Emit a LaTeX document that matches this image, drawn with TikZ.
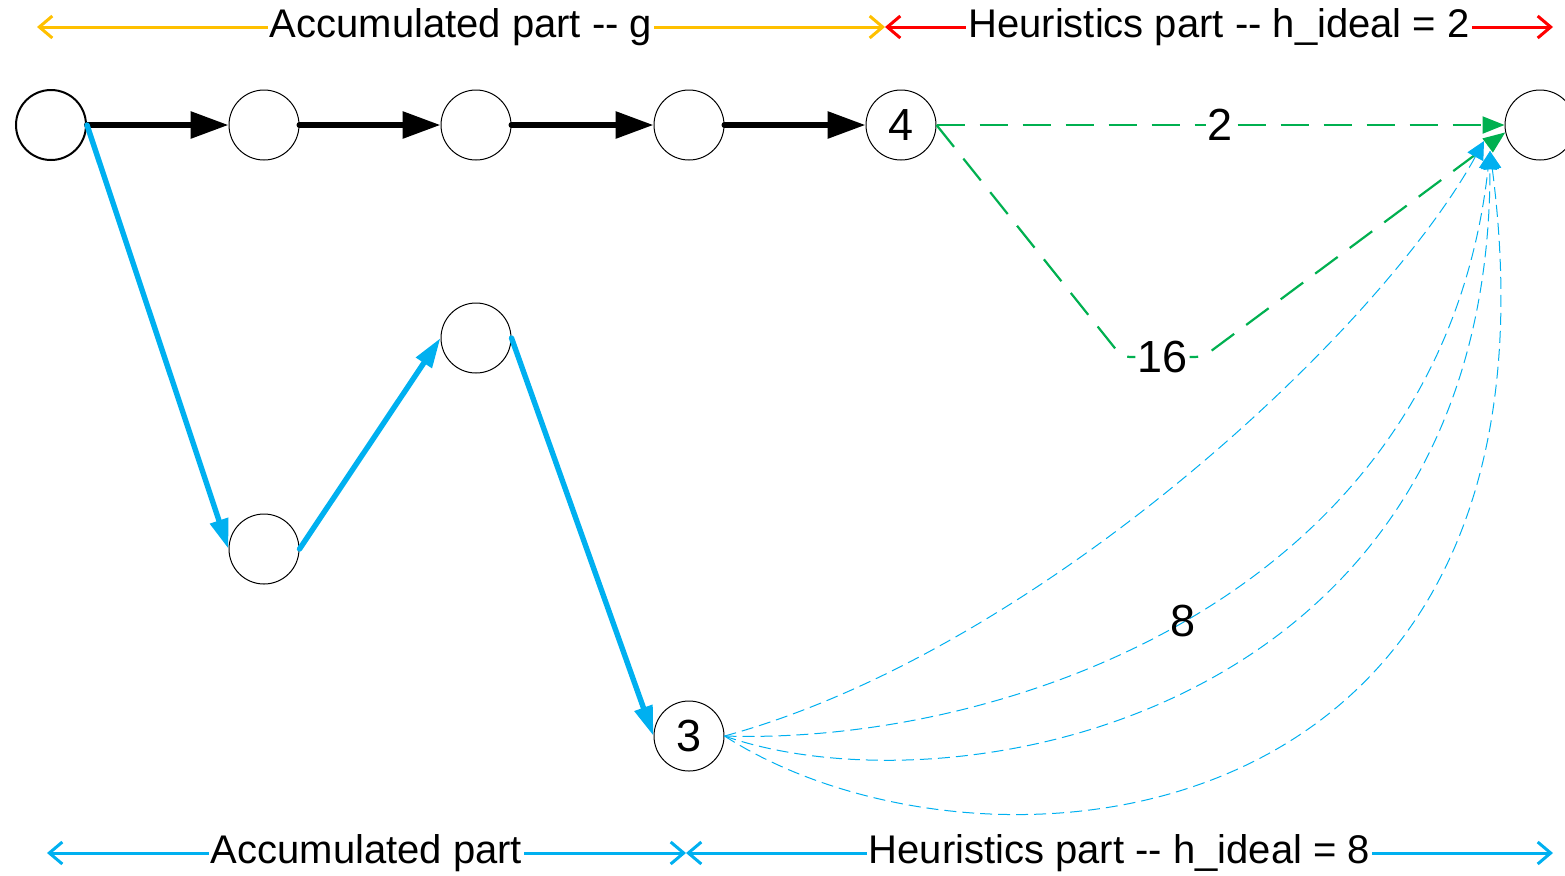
\documentclass[tikz,border=0pt]{standalone}
\usepackage{fontspec}
\setmainfont{Liberation Sans}
\usetikzlibrary{arrows.meta}
\definecolor{cyanb}{HTML}{00B0F0}
\definecolor{greenb}{HTML}{00B050}
\definecolor{yel}{HTML}{FFC000}
\definecolor{redb}{HTML}{FF0000}
\begin{document}
\begin{tikzpicture}[x=0.5pt,y=-0.5pt,
 circ/.style={circle,draw=black,line width=0.5pt,minimum size=35pt,inner sep=0pt,font=\fontsize{22.5}{26}\selectfont},
 lbl/.style={fill=white,text=black,inner xsep=1pt,inner ysep=0pt,font=\fontsize{20}{24}\selectfont},
 numlbl/.style={fill=white,text=black,inner sep=1pt,font=\fontsize{22.5}{26}\selectfont},
 blk/.style={black,line width=3pt,line cap=round,-{Triangle[length=19pt,width=13pt]}},
 bluethick/.style={cyanb,line width=2.7pt,line cap=round,-{Triangle[length=15pt,width=9pt]}},
 grn/.style={greenb,line width=1.1pt,dash pattern=on 14pt off 7.5pt,-{Triangle[length=11pt,width=8.5pt]}},
 bthin/.style={cyanb,line width=0.5pt,dash pattern=on 6pt off 3pt,-{Triangle[length=9pt,width=9pt]}},
 axisline/.style={line width=1.5pt,{Straight Barb[length=6.5pt,width=11pt]}-{Straight Barb[length=6.5pt,width=11pt]}},
]
\path[use as bounding box,clip] (0,0) rectangle (1565,875);

% nodes
\node[circ,line width=1pt] (n0) at (51,125) {};
\node[circ] (n1) at (264,125) {};
\node[circ] (n2) at (476,125) {};
\node[circ] (n3t) at (689,125) {};
\node[circ] (n4) at (901,125) {4};
\node[circ] (goal) at (1540,125) {};
\node[circ] (nA) at (264,549) {};
\node[circ] (nB) at (476,338) {};
\node[circ] (n3) at (689,736) {3};

% black path
\draw[blk] (n0.east) -- (n1.west);
\draw[blk] (n1.east) -- (n2.west);
\draw[blk] (n2.east) -- (n3t.west);
\draw[blk] (n3t.east) -- (n4.west);

% blue path
\draw[bluethick] (n0.east) -- (nA.west);
\draw[bluethick] (nA.east) -- (nB.west);
\draw[bluethick] (nB.east) -- (n3.west);

% green heuristics
\coordinate (g1) at (1122,357);
\coordinate (g2) at (1203,357);
\draw[grn] (n4.east) -- node[numlbl] (l2) {2} (goal.west);
\draw[grn,rounded corners=4pt] (n4.east) -- (g1) -- node[numlbl] (l16) {16} (g2) -- (goal.192);

% blue heuristics
\coordinate (t1) at (1484,141);
\coordinate (t2) at (1490,151);
\draw[bthin] (n3.east) .. controls (1040,650) and (1380,330) .. (t1);
\draw[bthin] (n3.east) .. controls (1000,745) and (1440,600) .. node[pos=0.49,numlbl,fill=none] (l8) {8} (t2);
\draw[bthin] (n3.east) .. controls (950,815) and (1490,720) .. (t2);
\draw[bthin] (n3.east) .. controls (980,900) and (1580,850) .. (t2);

% top axis
\coordinate (ta) at (37,27);
\coordinate (tm) at (885,27);
\coordinate (tb) at (1553,27);
\draw[axisline,yel] (ta) -- node[lbl] (lt1) {Accumulated part -\kern0pt- g} (tm);
\draw[axisline,redb] (tm) -- node[lbl] (lt2) {Heuristics part -\kern0pt- h\_ideal = 2} (tb);

% bottom axis
\coordinate (ba) at (47,853);
\coordinate (bm) at (686,853);
\coordinate (bb) at (1553,853);
\draw[axisline,cyanb] (ba) -- node[lbl] (lb1) {Accumulated part} (bm);
\draw[axisline,cyanb] (bm) -- node[lbl] (lb2) {Heuristics part -\kern0pt- h\_ideal = 8} (bb);
\end{tikzpicture}
\end{document}
